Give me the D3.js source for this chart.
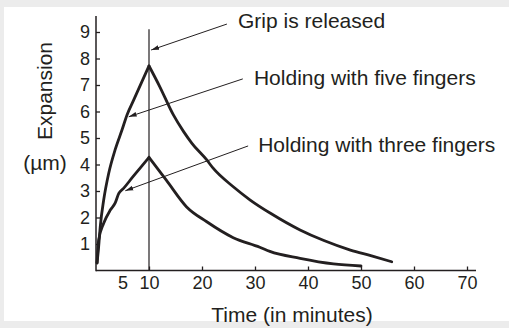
<!DOCTYPE html>
<html>
<head>
<meta charset="utf-8">
<script src="https://cdn.jsdelivr.net/npm/d3@7"></script>
<style>
  body { margin: 0; background: #ececec; }
  svg { display: block; font-family: "Liberation Sans", Arial, sans-serif; }
</style>
</head>
<body>
<svg width="509" height="328"></svg>
<script>
// expansion (um) vs time (min)
var fiveRise = [[0.2,0.28],[0.5,0.9],[0.8,1.65],[1.45,2.66],[2.4,3.67],[3.6,4.55],[4.9,5.3],[5.85,5.87],[7.1,6.43],[8.6,7.1],[10,7.72]];
var fiveFall = [[10,7.72],[12,6.95],[14.6,5.87],[16.5,5.25],[18.1,4.8],[20.9,4.17],[22.1,3.86],[25.9,3.16],[29.1,2.66],[33,2.15],[38.5,1.53],[43,1.13],[48,0.77],[52,0.55],[55.8,0.33]];
var threeRise = [[0.2,0.3],[0.5,1.15],[1.45,1.78],[2.7,2.28],[3.6,2.54],[4.3,2.91],[5.2,3.1],[6.9,3.52],[8.4,3.88],[10,4.27]];
var threeFall = [[10,4.27],[13.3,3.4],[17.1,2.4],[20.9,1.84],[25.9,1.24],[30.9,0.88],[32.8,0.72],[38.5,0.46],[44.8,0.25],[50,0.17]];

var xTicks = [5,10,20,30,40,50,60,70];
var yTicks = [1,2,3,4,5,6,7,8,9];
var releaseTime = 10;

// annotations: arrow head / tail and text anchor, in data units
var notes = [
  {text: "Grip is released",           head: [10.4,8.32], tail: [24.7,9.3],  at: [26.8,9.15]},
  {text: "Holding with five fingers",  head: [6.17,5.8],  tail: [27.7,7.23], at: [29.8,7.0]},
  {text: "Holding with three fingers", head: [5.53,3.01], tail: [28.7,4.70], at: [30.6,4.47]}
];

var ink = "#231f20";
var svg = d3.select("svg");

svg.append("rect").attr("width", 509).attr("height", 328).attr("fill", "#ececec");
svg.append("rect").attr("x", 4).attr("y", 7).attr("width", 505).attr("height", 314).attr("fill", "#fff");

var x = d3.scaleLinear().domain([0, 70]).range([96, 467]);
var y = d3.scaleLinear().domain([0, 9]).range([270.5, 32]);

svg.append("defs").append("marker")
    .attr("id", "head")
    .attr("viewBox", "-8 -3 8 6")
    .attr("markerUnits", "userSpaceOnUse")
    .attr("markerWidth", 8).attr("markerHeight", 6)
    .attr("orient", "auto")
  .append("path")
    .attr("d", "M0,0L-8,-2.4L-8,2.4Z")
    .attr("fill", ink);

// axes
var xAxis = d3.axisBottom(x).tickValues(xTicks).tickSizeInner(-4).tickSizeOuter(0).tickPadding(6);
var xG = svg.append("g").attr("transform", "translate(0," + y(0) + ")").call(xAxis);
xG.select(".domain").remove();
xG.selectAll(".tick").filter(d => d == 5).select("line").remove();

var yAxis = d3.axisLeft(y).tickValues(yTicks).tickSizeInner(-4).tickSizeOuter(0).tickPadding(6);
var yG = svg.append("g").attr("transform", "translate(" + x(0) + ",0)").call(yAxis);
yG.select(".domain").remove();

svg.selectAll(".tick line").attr("stroke", ink).attr("stroke-width", 1.3);
svg.selectAll(".tick text").attr("fill", ink).style("font-size", "18px").style("font-family", "Liberation Sans, Arial, sans-serif");

svg.append("line")
    .attr("x1", x(0)).attr("x2", x(71.7))
    .attr("y1", y(0)).attr("y2", y(0))
    .attr("stroke", ink).attr("stroke-width", 1.5);
svg.append("line")
    .attr("x1", x(0)).attr("x2", x(0))
    .attr("y1", y(0) + 0.75).attr("y2", y(9.6))
    .attr("stroke", ink).attr("stroke-width", 1.5);

// grip released marker line
svg.append("line")
    .attr("x1", x(releaseTime)).attr("x2", x(releaseTime))
    .attr("y1", y(0)).attr("y2", y(9.1))
    .attr("stroke", ink).attr("stroke-width", 1.2);

// curves, rise and fall drawn separately so the peak stays sharp
var line = d3.line().x(d => x(d[0])).y(d => y(d[1])).curve(d3.curveMonotoneX);
svg.selectAll("path.curve")
  .data([fiveRise, fiveFall, threeRise, threeFall])
  .enter().append("path")
    .attr("class", "curve")
    .attr("d", line)
    .attr("fill", "none")
    .attr("stroke", ink)
    .attr("stroke-width", 2.8)
    .attr("stroke-linejoin", "round")
    .attr("stroke-linecap", "round");

// annotations
svg.selectAll("line.note").data(notes).enter().append("line")
    .attr("class", "note")
    .attr("x1", d => x(d.tail[0])).attr("y1", d => y(d.tail[1]))
    .attr("x2", d => x(d.head[0])).attr("y2", d => y(d.head[1]))
    .attr("stroke", ink).attr("stroke-width", 1)
    .attr("marker-end", "url(#head)");

svg.selectAll("text.note").data(notes).enter().append("text")
    .attr("class", "note")
    .attr("x", d => x(d.at[0])).attr("y", d => y(d.at[1]))
    .attr("fill", ink)
    .style("font-size", "21px")
    .text(d => d.text);

// axis titles
svg.append("text")
    .attr("transform", "translate(51.5,91) rotate(-90)")
    .attr("text-anchor", "middle")
    .attr("fill", ink)
    .style("font-size", "21px")
    .text("Expansion");
svg.append("text")
    .attr("x", 45).attr("y", 170)
    .attr("text-anchor", "middle")
    .attr("fill", ink)
    .style("font-size", "21px")
    .text("(µm)");
svg.append("text")
    .attr("x", 292).attr("y", 322)
    .attr("text-anchor", "middle")
    .attr("fill", ink)
    .style("font-size", "21px")
    .text("Time (in minutes)");
</script>
</body>
</html>
